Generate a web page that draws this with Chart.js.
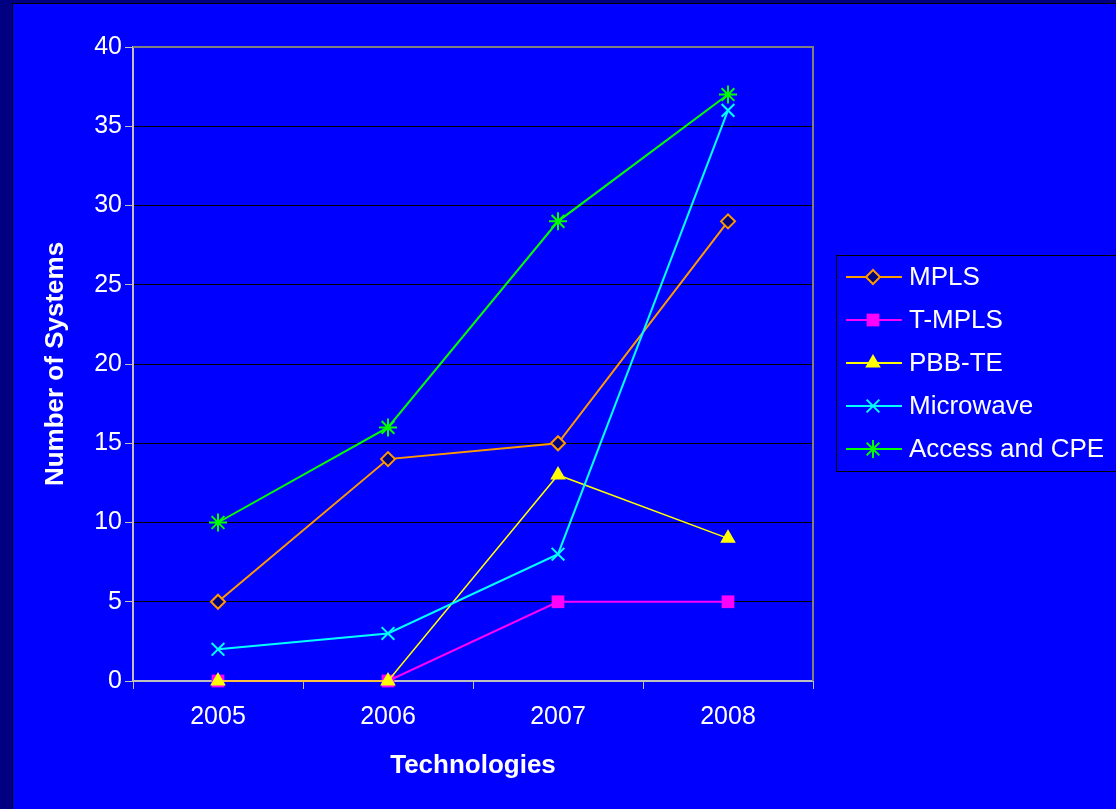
<!DOCTYPE html>
<html>
<head>
<meta charset="utf-8">
<script src="https://cdn.jsdelivr.net/npm/chart.js@4/dist/chart.umd.min.js"></script>
<style>
html,body{margin:0;padding:0;background:#000080;}
#wrap{width:1116px;height:809px;position:relative;}
</style>
</head>
<body>
<div id="wrap"><canvas id="chart" width="1116" height="809"></canvas></div>
<script>
// ===== Data =====
const years = ["2005","2006","2007","2008"];
const mpls = [5,14,15,29];
const tmpls = [0,0,5,5];
const pbbte = [0,0,13,9];
const microwave = [2,3,8,36];
const access = [10,16,29,37];
const yTicks = [0,5,10,15,20,25,30,35,40];

const FONT = "Arial, 'Liberation Sans', sans-serif";

// ===== Plugins =====
const backdrop = {
    id:"backdrop",
    beforeDraw(chart){
        const c=chart.ctx;
        c.save();
        c.fillStyle="#000080"; c.fillRect(0,0,chart.width,chart.height);
        c.fillStyle="#000000"; c.fillRect(12,3,chart.width,chart.height);
        c.fillStyle="#0000FF"; c.fillRect(13,4,chart.width,chart.height);
        c.restore();
    }
};

const frame = {
    id:"frame",
    beforeDatasetsDraw(chart){
        const a=chart.chartArea, c=chart.ctx;
        c.save();
        c.strokeStyle="#808080"; c.lineWidth=2;
        c.beginPath();
        c.moveTo(a.left,a.top); c.lineTo(a.right,a.top); c.lineTo(a.right,a.bottom);
        c.stroke();
        c.restore();
    }
};

function drawMarker(c,ds,x,y){
    c.save();
    c.fillStyle=ds.pointBackgroundColor;
    c.strokeStyle=ds.pointBorderColor;
    c.lineWidth=ds.pointBorderWidth;
    Chart.helpers.drawPoint(c,{pointStyle:ds.pointStyle,radius:ds.pointRadius,rotation:0,borderWidth:ds.pointBorderWidth},x,y);
    c.restore();
}

const sideLegend = {
    id:"sideLegend",
    afterDraw(chart){
        const c=chart.ctx;
        c.save();
        c.strokeStyle="#000000"; c.lineWidth=1;
        c.strokeRect(836.5,255.5,300,216);
        c.font="26px "+FONT;
        c.textBaseline="middle";
        chart.data.datasets.forEach((ds,i)=>{
            const y=277+i*43;
            c.strokeStyle=ds.borderColor; c.lineWidth=2;
            c.beginPath(); c.moveTo(846,y); c.lineTo(902,y); c.stroke();
            drawMarker(c,ds,873,y);
            c.fillStyle="#FFFFFF";
            c.fillText(ds.label,909,y+1);
        });
        c.restore();
    }
};

// ===== Chart =====
function series(label,data,color,style,opts){
    return Object.assign({
        label,data,
        borderColor:color,borderWidth:2,
        pointStyle:style,pointRadius:7,pointHoverRadius:7,
        pointBackgroundColor:color,pointBorderColor:color,pointBorderWidth:2,
        tension:0,fill:false,clip:false
    },opts||{});
}

new Chart(document.getElementById("chart"),{
    type:"line",
    data:{
        labels:years,
        datasets:[
            series("MPLS",mpls,"#FF9900","rectRot",{pointBackgroundColor:"#000080",pointRadius:7,order:5}),
            series("T-MPLS",tmpls,"#FF00FF","rect",{pointRadius:9,pointBorderWidth:0,order:4}),
            series("PBB-TE",pbbte,"#FFFF00","triangle",{borderWidth:1.5,pointRadius:9,pointBorderWidth:0,order:3}),
            series("Microwave",microwave,"#00FFFF","crossRot",{pointRadius:9,order:2}),
            series("Access and CPE",access,"#00FF00","star",{pointRadius:9,order:1})
        ]
    },
    options:{
        responsive:false,
        animation:false,
        events:[],
        layout:{padding:{left:38,top:47,right:303,bottom:18}},
        plugins:{legend:{display:false},tooltip:{enabled:false}},
        scales:{
            x:{
                offset:true,
                grid:{display:true,offset:true,drawOnChartArea:false,tickLength:8,tickColor:"#C0C0C0",color:"#C0C0C0"},
                border:{color:"#C0C0C0",width:2},
                ticks:{color:"#FFFFFF",font:{family:FONT,size:25},padding:13,maxRotation:0},
                title:{display:true,text:"Technologies",color:"#FFFFFF",font:{family:FONT,size:26,weight:"bold"},padding:{top:4,bottom:10}},
                afterFit(s){ s.height=110; }
            },
            y:{
                min:0,max:40,
                afterBuildTicks(s){ s.ticks=yTicks.map(v=>({value:v})); },
                grid:{color:"#000000",lineWidth:1,tickLength:8,tickColor:"#C0C0C0"},
                border:{color:"#C0C0C0",width:2},
                ticks:{color:"#FFFFFF",font:{family:FONT,size:25},padding:3},
                title:{display:true,text:"Number of Systems",color:"#FFFFFF",font:{family:FONT,size:26,weight:"bold"},padding:{top:2,bottom:0}},
                afterFit(s){ s.width=95; }
            }
        }
    },
    plugins:[backdrop,frame,sideLegend]
});
</script>
</body>
</html>
